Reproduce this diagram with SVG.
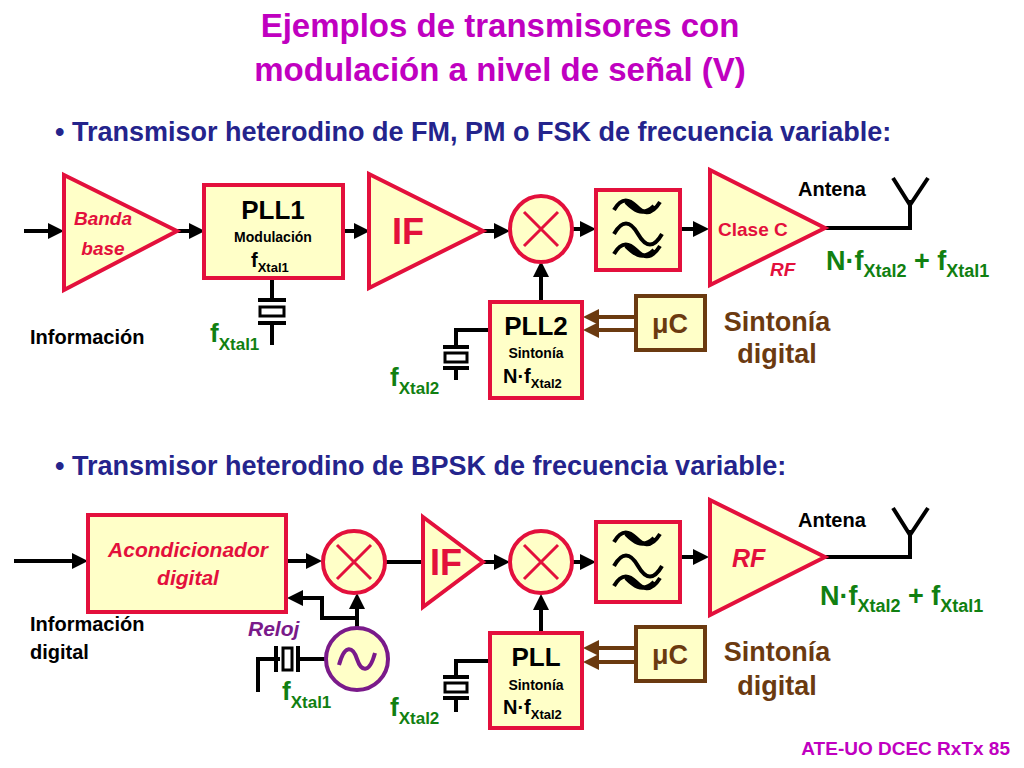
<svg xmlns="http://www.w3.org/2000/svg" width="1024" height="768" viewBox="0 0 1024 768">
<style>
.b{fill:#FFFFC8;stroke:#E3103C;stroke-width:4}
.u{fill:#FFFFC8;stroke:#6B3A10;stroke-width:4}
.w{fill:none;stroke:#000;stroke-width:4}
.wb{fill:none;stroke:#6B3A10;stroke-width:4}
.x{fill:none;stroke:#E3103C;stroke-width:3}
text{font-family:"Liberation Sans",Arial,sans-serif;font-weight:bold}
.r{fill:#E3103C}
.g{fill:#118011}
.k{fill:#000}
.br{fill:#6B3A10}
.t{fill:#C000C0;font-size:33px}
.h{fill:#24248C;font-size:27px}
</style>
<defs>
<marker id="a" markerWidth="4" markerHeight="4" refX="3" refY="2" orient="auto"><path d="M0,0L4,2L0,4z" fill="#000"/></marker>
<marker id="ab" markerWidth="4" markerHeight="4" refX="3" refY="2" orient="auto"><path d="M0,0L4,2L0,4z" fill="#6B3A10"/></marker>
<g id="filt"><path d="M-24,-20c8,-14 16,-10 22,-4s14,12 24,-4M-12,-28c6,6 16,16 28,4" class="w" stroke-width="3"/><path d="M-24,4c8,-14 16,-14 24,0s16,14 24,0" class="w" stroke-width="3"/><path d="M-24,24c8,-14 16,-10 22,-4s14,12 24,-4M-12,16c6,6 16,16 28,4" class="w" stroke-width="3"/></g>
</defs>
<text class="t" x="500" y="37" text-anchor="middle">Ejemplos de transmisores con</text>
<text class="t" x="500" y="81" text-anchor="middle">modulación a nivel de señal (V)</text>
<text class="h" x="55" y="141">• Transmisor heterodino de FM, PM o FSK de frecuencia variable:</text>
<text class="h" x="55" y="475">• Transmisor heterodino de BPSK de frecuencia variable:</text>

<g id="connectors">
<path class="w" marker-end="url(#a)" d="M24,231H60"/>
<path class="w" marker-end="url(#a)" d="M177,231H201"/>
<path class="w" marker-end="url(#a)" d="M343,231H366"/>
<path class="w" marker-end="url(#a)" d="M483,231H506"/>
<path class="w" marker-end="url(#a)" d="M572,229H592"/>
<path class="w" marker-end="url(#a)" d="M680,229H705"/>
<path class="w" marker-end="url(#a)" d="M541,302V265"/>
<path class="w" d="M272,278V298M272,325V345M490,330H456V345M456,370V380"/>
<path class="w" d="M825,228H910V200M910,205L893,178M910,205L928,178"/>
<path class="wb" marker-end="url(#ab)" d="M636,317H587"/>
<path class="wb" marker-end="url(#ab)" d="M636,330H587"/>
<path class="w" marker-end="url(#a)" d="M14,561H84"/>
<path class="w" marker-end="url(#a)" d="M287,561H318"/>
<path class="w" marker-end="url(#a)" d="M483,562H506"/>
<path class="w" marker-end="url(#a)" d="M572,562H592"/>
<path class="w" marker-end="url(#a)" d="M680,557H705"/>
<path class="w" marker-end="url(#a)" d="M357,628V597"/>
<path class="w" marker-end="url(#a)" d="M357,618H322V598H291"/>
<path class="w" marker-end="url(#a)" d="M541,633V598"/>
<path class="w" d="M386,562H423M825,557H910V530M910,535L893,508M910,535L928,508M326,659H300M280,659H258V692M490,661H456V675M456,700V712"/>
<path class="wb" marker-end="url(#ab)" d="M636,648H587"/>
<path class="wb" marker-end="url(#ab)" d="M636,662H587"/>
</g>

<g id="banda"><path class="b" d="M64,175L177,231L64,290z"/><text class="r" font-style="italic" font-size="19" x="103" y="225" text-anchor="middle">Banda</text><text class="r" font-style="italic" font-size="19" x="103" y="255" text-anchor="middle">base</text></g>
<g id="pll1"><rect class="b" x="204" y="185" width="139" height="93"/><text class="k" font-size="26" x="273" y="219" text-anchor="middle">PLL1</text><text class="k" font-size="14" x="273" y="242" text-anchor="middle">Modulación</text><text class="k" font-size="20" x="251" y="267">f<tspan font-size="13" dy="5">Xtal1</tspan></text></g>
<g id="xtal1"><path class="w" d="M258,300H286M258,323H286"/><rect x="260" y="307" width="24" height="9" fill="#fff" stroke="#000" stroke-width="3"/><text class="g" font-size="26" x="210" y="342">f<tspan font-size="17" dy="8">Xtal1</tspan></text></g>
<text class="k" font-size="20" x="30" y="344">Información</text>
<g id="if1"><path class="b" d="M369,174L483,231L369,288z"/><text class="r" font-size="36" x="392" y="244">IF</text></g>
<g id="mix1"><ellipse class="b" cx="541" cy="229" rx="31" ry="33"/><path class="x" d="M524,212L558,246M558,212L524,246"/></g>
<g id="filt1"><rect class="b" x="596" y="190" width="84" height="80"/><use href="#filt" x="638" y="230"/></g>
<g id="rf1"><path class="b" d="M710,170L825,228L710,285z"/><text class="r" font-size="19" x="718" y="236">Clase C</text><text class="r" font-style="italic" font-size="19" x="770" y="276">RF</text></g>
<text class="k" font-size="20" x="798" y="196">Antena</text>
<text class="g" font-size="27" x="826" y="270">N·f<tspan font-size="18" dy="7">Xtal2</tspan><tspan dy="-7"> + f</tspan><tspan font-size="18" dy="7">Xtal1</tspan></text>
<g id="pll2"><rect class="b" x="490" y="302" width="92" height="96"/><text class="k" font-size="26" x="536" y="335" text-anchor="middle">PLL2</text><text class="k" font-size="14" x="536" y="358" text-anchor="middle">Sintonía</text><text class="k" font-size="20" x="503" y="383">N·f<tspan font-size="13" dy="5">Xtal2</tspan></text></g>
<g id="xtal2"><path class="w" d="M443,347H469M443,368H469"/><rect x="445" y="353" width="22" height="9" fill="#fff" stroke="#000" stroke-width="3"/><text class="g" font-size="26" x="390" y="386">f<tspan font-size="17" dy="8">Xtal2</tspan></text></g>
<g id="uc1"><rect class="u" x="636" y="296" width="69" height="54"/><text class="br" font-size="27" x="670" y="333" text-anchor="middle">μC</text></g>
<text class="br" font-size="27" x="777" y="331" text-anchor="middle">Sintonía</text>
<text class="br" font-size="27" x="777" y="363" text-anchor="middle">digital</text>

<g id="acond"><rect class="b" x="88" y="515" width="198" height="97"/><text class="r" font-style="italic" font-size="21" x="188" y="557" text-anchor="middle">Acondicionador</text><text class="r" font-style="italic" font-size="21" x="188" y="585" text-anchor="middle">digital</text></g>
<text class="k" font-size="20" x="30" y="631">Información</text>
<text class="k" font-size="20" x="30" y="659">digital</text>
<g id="mixb1"><circle class="b" cx="354" cy="562" r="31"/><path class="x" d="M337,545L371,579M371,545L337,579"/></g>
<g id="ifb"><path class="b" d="M423,517L483,562L423,607z"/><text class="r" font-size="36" x="430" y="575">IF</text></g>
<g id="mixb2"><circle class="b" cx="541" cy="562" r="31"/><path class="x" d="M524,545L558,579M558,545L524,579"/></g>
<g id="filt2"><rect class="b" x="596" y="522" width="84" height="80"/><use href="#filt" x="638" y="562"/></g>
<g id="rfb"><path class="b" d="M710,500L825,557L710,615z"/><text class="r" font-style="italic" font-size="25" x="732" y="567">RF</text></g>
<text class="k" font-size="20" x="798" y="527">Antena</text>
<text class="g" font-size="27" x="820" y="605">N·f<tspan font-size="18" dy="7">Xtal2</tspan><tspan dy="-7"> + f</tspan><tspan font-size="18" dy="7">Xtal1</tspan></text>
<g id="osc"><circle cx="357" cy="659" r="31" fill="#FFFFC8" stroke="#7A1A8A" stroke-width="4"/><path d="M339,665c6,-22 14,-18 18,-6s12,16 18,-6" fill="none" stroke="#7A1A8A" stroke-width="4"/></g>
<text fill="#7A1A8A" font-style="italic" font-size="21" x="248" y="636">Reloj</text>
<g id="xtalb1"><path class="w" d="M276,646V672M298,646V672"/><rect x="283" y="648" width="9" height="22" fill="#fff" stroke="#000" stroke-width="3"/><text class="g" font-size="26" x="282" y="700">f<tspan font-size="17" dy="8">Xtal1</tspan></text></g>
<g id="pll"><rect class="b" x="490" y="633" width="92" height="95"/><text class="k" font-size="26" x="536" y="666" text-anchor="middle">PLL</text><text class="k" font-size="14" x="536" y="690" text-anchor="middle">Sintonía</text><text class="k" font-size="20" x="503" y="714">N·f<tspan font-size="13" dy="5">Xtal2</tspan></text></g>
<g id="xtalb2"><path class="w" d="M443,677H469M443,698H469"/><rect x="445" y="683" width="22" height="9" fill="#fff" stroke="#000" stroke-width="3"/><text class="g" font-size="26" x="390" y="716">f<tspan font-size="17" dy="8">Xtal2</tspan></text></g>
<g id="uc2"><rect class="u" x="636" y="627" width="69" height="54"/><text class="br" font-size="27" x="670" y="664" text-anchor="middle">μC</text></g>
<text class="br" font-size="27" x="777" y="661" text-anchor="middle">Sintonía</text>
<text class="br" font-size="27" x="777" y="695" text-anchor="middle">digital</text>
<text fill="#C000C0" font-size="19" x="1010" y="755" text-anchor="end">ATE-UO DCEC RxTx 85</text>
</svg>
